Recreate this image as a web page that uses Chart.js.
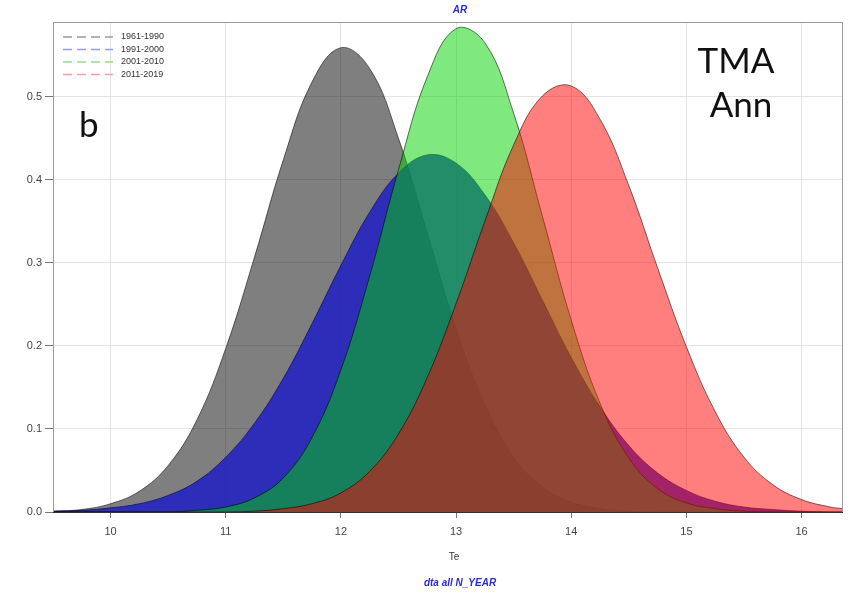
<!DOCTYPE html>
<html>
<head>
<meta charset="utf-8">
<script src="https://cdn.jsdelivr.net/npm/chart.js@4"></script>
<style>
  html, body { margin: 0; padding: 0; background: #fff; }
  #box { width: 849px; height: 594px; }
</style>
</head>
<body>
<div id="box"><canvas id="grafico"></canvas></div>
<script>
// Dados (densidades)
let eixo_x = [9.5, 9.75, 10, 10.25, 10.5, 10.75, 11, 11.25, 11.5, 11.75, 12, 12.25, 12.5, 12.75, 13, 13.25, 13.5, 13.75, 14, 14.25, 14.5, 14.75, 15, 15.25, 15.5, 15.75, 16, 16.25, 16.36]
let periodos = ['1961-1990', '1991-2000', '2001-2010', '2011-2019']
let dado_1961 = [0.001, 0.003, 0.010, 0.025, 0.056, 0.111, 0.197, 0.307, 0.424, 0.518, 0.559, 0.534, 0.450, 0.336, 0.221, 0.129, 0.066, 0.030, 0.012, 0.004, 0.001, 0, 0, 0, 0, 0, 0, 0, 0]
let dado_1991 = [0.001, 0.002, 0.005, 0.010, 0.020, 0.037, 0.066, 0.107, 0.161, 0.227, 0.297, 0.361, 0.408, 0.430, 0.420, 0.382, 0.324, 0.255, 0.186, 0.127, 0.080, 0.047, 0.026, 0.013, 0.006, 0.003, 0.001, 0, 0]
let dado_2001 = [0, 0, 0, 0, 0, 0.002, 0.006, 0.017, 0.041, 0.090, 0.171, 0.284, 0.412, 0.524, 0.582, 0.565, 0.480, 0.356, 0.231, 0.131, 0.065, 0.028, 0.011, 0.004, 0.001, 0, 0, 0, 0]
let dado_2011 = [0, 0, 0, 0, 0, 0, 0, 0.001, 0.004, 0.010, 0.023, 0.049, 0.094, 0.162, 0.251, 0.350, 0.442, 0.501, 0.513, 0.473, 0.393, 0.294, 0.199, 0.121, 0.066, 0.033, 0.015, 0.006, 0.004]
let ticks_x = [10, 11, 12, 13, 14, 15, 16]
let ticks_y = [0, 0.1, 0.2, 0.3, 0.4, 0.5]

// Cores
let cinza = 'rgba(0,0,0,0.5)'
let azul = 'rgba(25,25,200,0.8)'
let verde = 'rgba(0,210,0,0.5)'
let vermelho = 'rgba(255,0,0,0.5)'
let cores_legenda = ['#9a9a9a', '#8ea0e6', '#8fe08f', '#ff9c9c']
let fonte = '"Liberation Sans", Arial, sans-serif'

function pontos(dados) {
  return dados.map((v, i) => ({ x: eixo_x[i], y: v }))
}

function serie(label, dados, cor, ordem) {
  return {
    label: label,
    data: pontos(dados),
    fill: 'origin',
    backgroundColor: cor,
    borderColor: 'rgba(0,0,0,0.55)',
    borderWidth: 1,
    pointRadius: 0,
    tension: 0.4, // curva suave
    order: ordem // ordem maior = desenhado antes
  }
}

// Textos e legenda desenhados à mão
const textos = {
  id: 'textos',
  afterDraw(chart) {
    const ctx = chart.ctx
    const area = chart.chartArea
    ctx.save()
    // moldura do gráfico
    ctx.strokeStyle = '#9a9a9a'
    ctx.lineWidth = 1
    ctx.strokeRect(area.left + 0.5, area.top + 0.5, area.right - area.left - 1, area.bottom - area.top)
    ctx.strokeStyle = '#333'
    ctx.beginPath()
    ctx.moveTo(area.left, area.bottom + 0.5)
    ctx.lineTo(area.right, area.bottom + 0.5)
    ctx.stroke()

    // legenda
    ctx.font = '9px ' + fonte
    ctx.textBaseline = 'middle'
    ctx.textAlign = 'left'
    periodos.forEach((p, i) => {
      let y = 37 + i * 12.5
      ctx.strokeStyle = cores_legenda[i]
      ctx.lineWidth = 1.5
      ctx.setLineDash([9, 5])
      ctx.beginPath()
      ctx.moveTo(63, y)
      ctx.lineTo(113, y)
      ctx.stroke()
      ctx.setLineDash([])
      ctx.fillStyle = '#333'
      ctx.fillText(p, 121, y)
    })

    // títulos
    ctx.fillStyle = '#2a2ad6'
    ctx.textAlign = 'center'
    ctx.font = 'italic bold 10px ' + fonte
    ctx.fillText('AR', 460, 10)
    ctx.fillText('dta all N_YEAR', 460, 583)
    ctx.fillStyle = '#333'
    ctx.font = '10px ' + fonte
    ctx.fillText('Te', 454, 557)

    // anotações
    ctx.fillStyle = '#111'
    ctx.font = '35px Lato, "Open Sans", sans-serif'
    ctx.fillText('TMA', 736, 62)
    ctx.fillText('Ann', 741, 106)
    ctx.textAlign = 'left'
    ctx.fillText('b', 79, 126)
    ctx.restore()
  }
}

const c_grafico = document.getElementById('grafico').getContext('2d')
let grafico = new Chart(c_grafico, {
  type: 'line',
  data: {
    datasets: [
      serie(periodos[0], dado_1961, cinza, 3),
      serie(periodos[1], dado_1991, azul, 2),
      serie(periodos[2], dado_2001, verde, 1),
      serie(periodos[3], dado_2011, vermelho, 0)
    ]
  },
  options: {
    responsive: true,
    maintainAspectRatio: false,
    animation: false,
    layout: { padding: { left: 0, right: 6, top: 22, bottom: 0 } },
    scales: {
      x: {
        type: 'linear',
        min: 9.5,
        max: 16.36,
        afterBuildTicks: s => { s.ticks = ticks_x.map(v => ({ value: v })) },
        afterFit: s => { s.height = 82 },
        grid: { color: '#e4e4e4', tickLength: 6, tickColor: '#777' },
        border: { display: false },
        ticks: { color: '#444', font: { size: 11, family: fonte }, padding: 7, maxRotation: 0 }
      },
      y: {
        min: 0,
        max: 0.59,
        afterBuildTicks: s => { s.ticks = ticks_y.map(v => ({ value: v })) },
        afterFit: s => { s.width = 53 },
        grid: { color: '#e4e4e4', tickLength: 8, tickColor: '#777' },
        border: { display: false },
        ticks: { color: '#444', font: { size: 11, family: fonte }, padding: 3, callback: v => v.toFixed(1) }
      }
    },
    plugins: {
      legend: { display: false },
      tooltip: { enabled: false }
    }
  },
  plugins: [textos]
})
</script>
</body>
</html>
